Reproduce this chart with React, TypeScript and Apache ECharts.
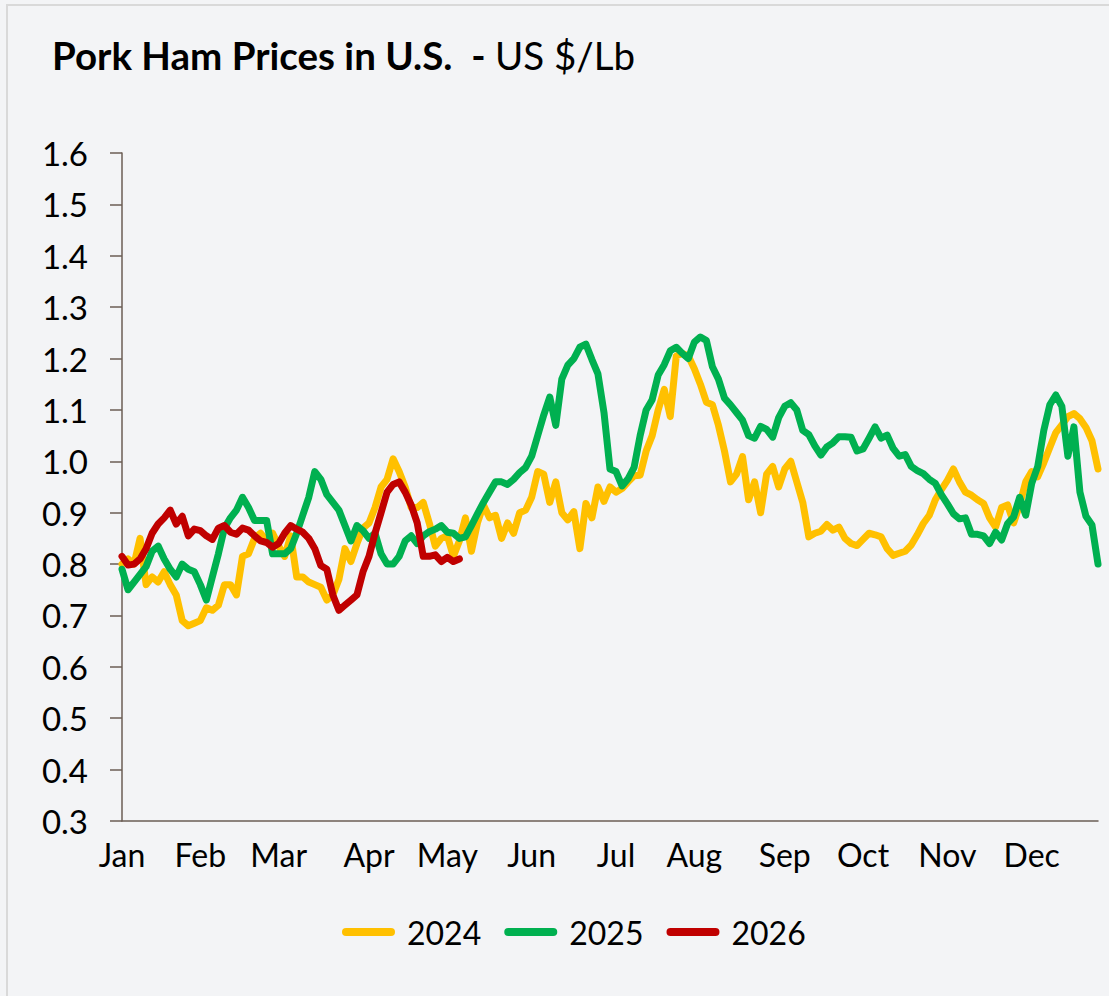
import React, { useEffect, useRef } from 'react';
import * as echarts from 'echarts';

const FONT = 'Lato, "Open Sans", sans-serif';

const monthLabels = ['Jan', 'Feb', 'Mar', 'Apr', 'May', 'Jun', 'Jul', 'Aug', 'Sep', 'Oct', 'Nov', 'Dec'];
const monthStartIndex = [0, 13, 26, 41, 54, 68, 82, 95, 110, 123, 137, 151];

const seriesNames = ['2024', '2025', '2026'];
const seriesColors = ['#FFC000', '#00B050', '#C00000'];

const values2024 = [
  0.80, 0.81, 0.80, 0.85, 0.76, 0.775, 0.765, 0.785, 0.76, 0.74,
  0.69, 0.68, 0.685, 0.69, 0.715, 0.71, 0.72, 0.76, 0.76, 0.74,
  0.815, 0.82, 0.85, 0.86, 0.845, 0.86, 0.835, 0.815, 0.855, 0.775,
  0.775, 0.765, 0.76, 0.755, 0.73, 0.74, 0.77, 0.83, 0.805, 0.84,
  0.87, 0.88, 0.91, 0.95, 0.965, 1.005, 0.98, 0.95, 0.91, 0.91,
  0.92, 0.88, 0.835, 0.85, 0.855, 0.815, 0.845, 0.89, 0.825, 0.88,
  0.915, 0.89, 0.895, 0.85, 0.88, 0.86, 0.90, 0.905, 0.93, 0.98,
  0.975, 0.92, 0.96, 0.90, 0.886, 0.902, 0.83, 0.918, 0.89, 0.95,
  0.922, 0.95, 0.94, 0.947, 0.96, 0.972, 0.973, 1.02, 1.05, 1.10,
  1.14, 1.087, 1.205, 1.21, 1.205, 1.18, 1.15, 1.115, 1.11, 1.07,
  1.02, 0.96, 0.975, 1.009, 0.925, 0.96, 0.90, 0.975, 0.99, 0.95,
  0.985, 1.0, 0.96, 0.92, 0.853, 0.86, 0.864, 0.877, 0.866, 0.872,
  0.85, 0.84, 0.836, 0.848, 0.86, 0.857, 0.853, 0.83, 0.817, 0.821,
  0.825, 0.837, 0.857, 0.879, 0.895, 0.925, 0.945, 0.963, 0.985, 0.96,
  0.94, 0.934, 0.925, 0.918, 0.89, 0.872, 0.91, 0.915, 0.88, 0.915,
  0.96, 0.98, 0.97, 0.997, 1.027, 1.056, 1.071, 1.087, 1.093, 1.083,
  1.066, 1.04, 0.985,
];

const values2025 = [
  0.79, 0.75, 0.765, 0.78, 0.795, 0.825, 0.835, 0.81, 0.79, 0.775,
  0.80, 0.79, 0.785, 0.76, 0.73, 0.775, 0.82, 0.87, 0.89, 0.905,
  0.93, 0.91, 0.885, 0.885, 0.885, 0.82, 0.82, 0.82, 0.83, 0.86,
  0.895, 0.93, 0.98, 0.965, 0.935, 0.92, 0.905, 0.875, 0.845, 0.875,
  0.865, 0.85, 0.86, 0.82, 0.80, 0.80, 0.815, 0.845, 0.855, 0.84,
  0.855, 0.863, 0.868, 0.875, 0.862, 0.86, 0.85, 0.853, 0.875, 0.898,
  0.92, 0.94, 0.96, 0.96, 0.955, 0.965, 0.978, 0.988, 1.01, 1.05,
  1.09, 1.125, 1.07, 1.16, 1.187, 1.20, 1.222, 1.228, 1.198, 1.17,
  1.095, 0.985, 0.98, 0.952, 0.966, 0.988, 1.05, 1.10, 1.12, 1.168,
  1.188, 1.215, 1.222, 1.21, 1.20, 1.232, 1.242, 1.235, 1.184, 1.16,
  1.123, 1.11, 1.095, 1.08, 1.05, 1.045, 1.068, 1.062, 1.047, 1.085,
  1.107, 1.114, 1.10, 1.06, 1.052, 1.03, 1.012, 1.028, 1.036, 1.048,
  1.048, 1.047, 1.02, 1.024, 1.045, 1.067, 1.045, 1.051, 1.025, 1.01,
  1.013, 0.99, 0.982, 0.976, 0.965, 0.957, 0.935, 0.917, 0.898, 0.888,
  0.89, 0.858, 0.858, 0.855, 0.84, 0.862, 0.847, 0.879, 0.892, 0.93,
  0.895, 0.957, 0.99, 1.06, 1.11, 1.129, 1.107, 1.01, 1.067, 0.94,
  0.893, 0.876, 0.80,
];

const values2026 = [
  0.815, 0.798, 0.80, 0.81, 0.83, 0.86, 0.878, 0.89, 0.905, 0.878,
  0.893, 0.855, 0.868, 0.865, 0.855, 0.848, 0.87, 0.875, 0.862, 0.858,
  0.87, 0.866, 0.855, 0.845, 0.842, 0.833, 0.84, 0.86, 0.875, 0.868,
  0.862, 0.85, 0.83, 0.797, 0.79, 0.74, 0.71, 0.72, 0.73, 0.74,
  0.785, 0.815, 0.86, 0.90, 0.94, 0.955, 0.96, 0.94, 0.915, 0.88,
  0.815, 0.815, 0.818, 0.805, 0.813, 0.805, 0.81,
];

const seriesValues = [values2024, values2025, values2026];
const categories = values2024.map((_, i) => String(i));

export default function App() {
  const ref = useRef<HTMLDivElement>(null);

  useEffect(() => {
    document.body.style.margin = '0';
    if (!ref.current) return;
    const chart = echarts.init(ref.current, undefined, { renderer: 'svg' });
    const axisColor = '#6B5E55';
    chart.setOption({
      animation: false,
      backgroundColor: '#F3F4F6',
      title: {
        text: '{b|Pork Ham Prices in U.S.  - }{r|US $/Lb}',
        left: 47,
        top: 30,
        textStyle: {
          rich: {
            b: { fontFamily: FONT, fontWeight: 'bold', fontSize: 38.5, color: '#000' },
            r: { fontFamily: FONT, fontWeight: 'normal', fontSize: 38.5, color: '#000' },
          },
        },
      },
      graphic: [
        {
          type: 'rect',
          silent: true,
          shape: { x: 7, y: 5, width: 1200, height: 1100 },
          style: { fill: 'none', stroke: '#D9D9D9', lineWidth: 2 },
        },
      ],
      legend: {
        left: 337,
        top: 911,
        itemWidth: 53,
        itemHeight: 8,
        itemGap: 23,
        icon: 'path://M4 0H49A4 4 0 0 1 49 8H4A4 4 0 0 1 4 0Z',
        textStyle: { fontFamily: FONT, fontSize: 32, color: '#000', padding: [0, 0, 0, 7] },
        data: seriesNames,
      },
      grid: { left: 122, right: 11, top: 153, bottom: 175, containLabel: false },
      xAxis: {
        type: 'category',
        boundaryGap: false,
        data: categories,
        axisLine: { show: true, lineStyle: { color: axisColor, width: 1.5 } },
        axisTick: { show: false },
        splitLine: { show: false },
        axisLabel: {
          interval: (index: number) => monthStartIndex.includes(index),
          formatter: (_v: string, index: number) => {
            const k = monthStartIndex.indexOf(index);
            return k >= 0 ? monthLabels[k] : '';
          },
          fontFamily: FONT,
          fontSize: 32,
          color: '#000',
          margin: 17,
        },
      },
      yAxis: {
        type: 'value',
        min: 0.3,
        max: 1.6,
        interval: 0.1,
        axisLine: { show: true, lineStyle: { color: axisColor, width: 1.5 } },
        axisTick: { show: true, length: 12, lineStyle: { color: axisColor, width: 1.5 } },
        splitLine: { show: false },
        axisLabel: {
          formatter: (v: number) => v.toFixed(1),
          fontFamily: FONT,
          fontSize: 33,
          color: '#000',
          margin: 34,
        },
      },
      series: seriesNames.map((name, k) => ({
        name,
        type: 'line',
        data: seriesValues[k],
        showSymbol: false,
        symbol: 'none',
        color: seriesColors[k],
        lineStyle: { width: 7, color: seriesColors[k], cap: 'round', join: 'round' },
        z: 2 + k,
      })),
    });
    return () => chart.dispose();
  }, []);

  return <div ref={ref} style={{ width: 1109, height: 996 }} />;
}
